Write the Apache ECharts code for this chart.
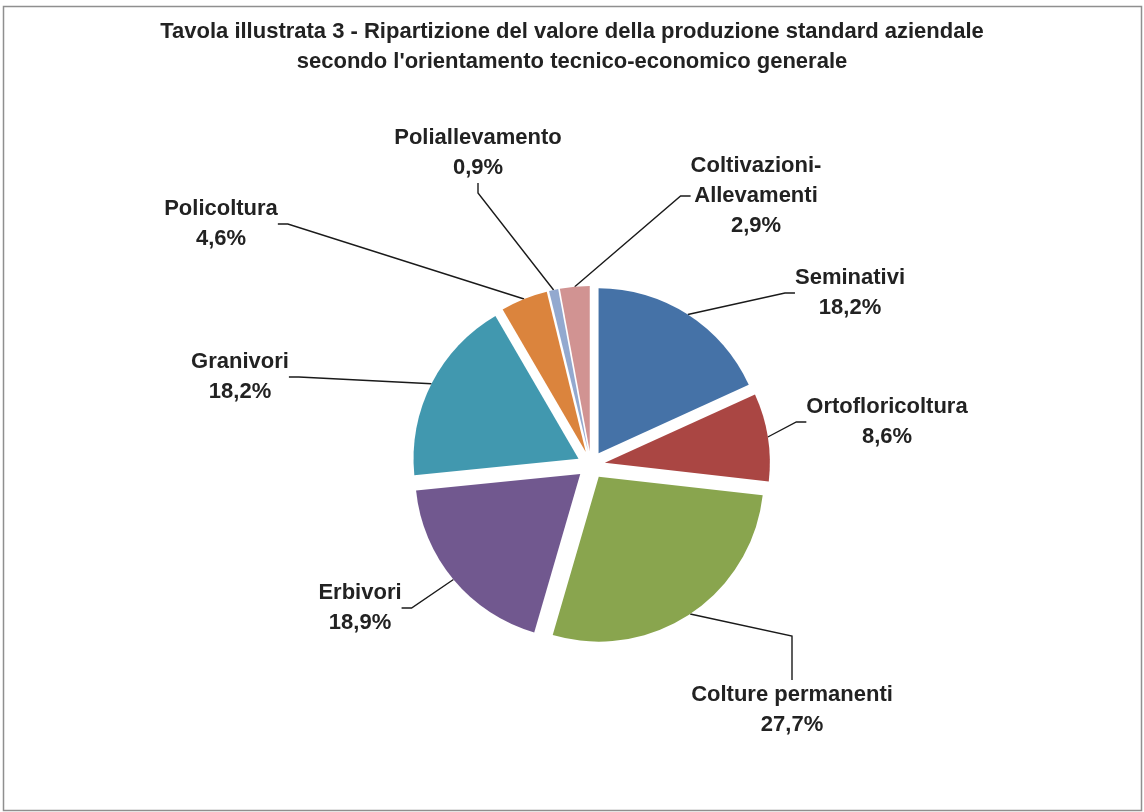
<!DOCTYPE html>
<html>
<head>
<meta charset="utf-8">
<script src="https://cdn.jsdelivr.net/npm/echarts@6/dist/echarts.min.js"></script>
<style>
html,body{margin:0;padding:0;background:#fff;}
#chart{width:1144px;height:812px;}
</style>
</head>
<body>
<div id="chart"></div>
<script>
// Data
const categories = ['Seminativi','Ortofloricoltura','Colture permanenti','Erbivori','Granivori','Policoltura','Poliallevamento','Coltivazioni-Allevamenti'];
const shares = [18.2, 8.6, 27.7, 18.9, 18.2, 4.6, 0.9, 2.9];
const sliceColors = ['#4572A7','#AA4643','#89A54E','#71588F','#4198AF','#DB843D','#93A9CF','#D19392'];
const titleLines = ['Tavola illustrata 3 - Ripartizione del valore della produzione standard aziendale', "secondo l'orientamento tecnico-economico generale"];

// Layout only
const labelCenters = [[850,293],[887,422],[792,710],[360,608],[240,377],[221,224],[478,153],[756,196]];
const leaderTail = [10, 10, 44, 10, 10, 10, 10, 10];
const PIE_CENTER = [591, 465];
const PIE_RADIUS = 165;
const EXPLODE = 14;

const FONT = '"Liberation Sans", Arial, sans-serif';
const chart = echarts.init(document.getElementById('chart'), null, {renderer:'canvas'});

const total = shares.reduce((a, b) => a + b, 0);

// Exploded pie: one series per slice, each shifted outward along its own mid-angle
const series = categories.map((cat, i) => {
  let before = 0;
  for (let k = 0; k < i; k++) before += shares[k];
  const mid = 2 * Math.PI * (before + shares[i] / 2) / total;
  const cx = PIE_CENTER[0] + EXPLODE * Math.sin(mid);
  const cy = PIE_CENTER[1] - EXPLODE * Math.cos(mid);
  return {
    type: 'pie',
    center: [cx, cy],
    radius: PIE_RADIUS,
    startAngle: 90,
    clockwise: true,
    silent: true,
    avoidLabelOverlap: false,
    label: {
      fontFamily: FONT,
      fontSize: 22,
      fontWeight: 'bold',
      color: '#222',
      lineHeight: 30,
      align: 'center',
      formatter: function (p) {
        return p.name.replace('-', '-\n') + '\n' + p.value.toFixed(1).replace('.', ',') + '%';
      }
    },
    labelLine: {
      length: 10,
      length2: 10,
      lineStyle: { color: '#1a1a1a', width: 1.4 }
    },
    labelLayout: function (params) {
      const c = labelCenters[params.dataIndex];
      return { x: c[0], y: c[1], align: 'center', verticalAlign: 'middle' };
    },
    emphasis: { disabled: true },
    data: categories.map((name, j) => ({
      name: name,
      value: shares[j],
      itemStyle: { color: j === i ? sliceColors[j] : 'rgba(0,0,0,0)', borderWidth: 0 },
      label: { show: j === i },
      labelLine: { show: j === i, length2: leaderTail[j] }
    }))
  };
});

chart.setOption({
  animation: false,
  backgroundColor: '#ffffff',
  title: {
    text: titleLines.join('\n'),
    left: 'center',
    top: 17,
    padding: 0,
    textStyle: { fontFamily: FONT, fontSize: 22, fontWeight: 'bold', color: '#222', lineHeight: 30 }
  },
  graphic: [{
    type: 'rect',
    shape: { x: 3.5, y: 6.5, width: 1138, height: 804 },
    style: { fill: 'none', stroke: '#8f8f8f', lineWidth: 1.5 },
    silent: true
  }],
  series: series
});
</script>
</body>
</html>
